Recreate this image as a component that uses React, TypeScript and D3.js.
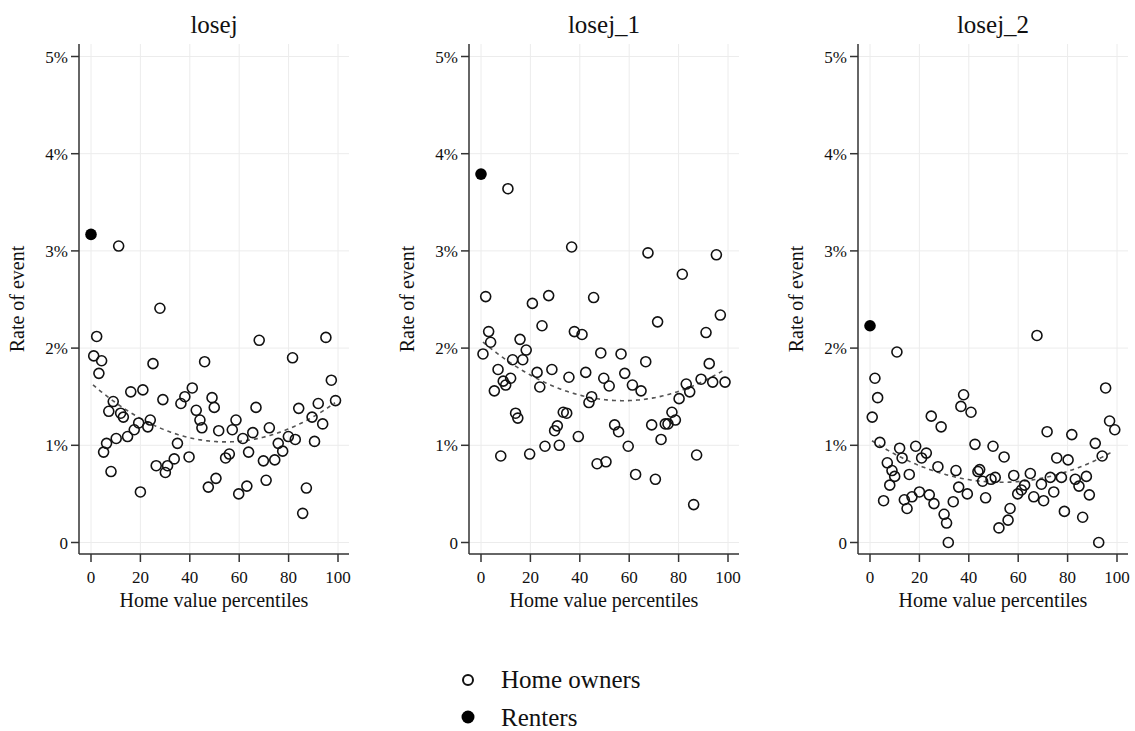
import React from "react";
import * as d3 from "d3";

const panelTitles = ["losej", "losej_1", "losej_2"];
const renterRates = [3.17, 3.79, 2.23];
const xTicks = [0, 20, 40, 60, 80, 100];
const yTicks = [0, 1, 2, 3, 4, 5];
const yTickLabels = ["0", "1%", "2%", "3%", "4%", "5%"];

const ownersLosej: [number, number][] = [
  [1.1, 1.92], [2.3, 2.12], [3.2, 1.74], [4.3, 1.87], [5.1, 0.93], [6.3, 1.02], [7.2, 1.35], [8.1, 0.73],
  [9, 1.45], [10.2, 1.07], [11.2, 3.05], [12, 1.33], [13.1, 1.29], [14.8, 1.09], [16.1, 1.55], [17.5, 1.16],
  [19.3, 1.23], [20, 0.52], [21, 1.57], [23, 1.19], [24, 1.26], [25.1, 1.84], [26.4, 0.79], [27.9, 2.41],
  [29.1, 1.47], [30.1, 0.72], [31, 0.79], [33.7, 0.86], [35, 1.02], [36.4, 1.43], [38, 1.5], [39.7, 0.88],
  [41, 1.59], [42.6, 1.36], [44.1, 1.26], [44.9, 1.18], [46, 1.86], [47.5, 0.57], [49, 1.49], [49.9, 1.39],
  [50.6, 0.66], [51.7, 1.15], [54.5, 0.87], [56, 0.91], [57.2, 1.16], [58.7, 1.26], [59.8, 0.5], [61.5, 1.07],
  [63.1, 0.58], [63.8, 0.93], [65.5, 1.13], [66.8, 1.39], [68.1, 2.08], [69.8, 0.84], [70.9, 0.64], [72.2, 1.18],
  [74.4, 0.85], [75.8, 1.02], [77.6, 0.94], [79.9, 1.09], [81.6, 1.9], [82.7, 1.06], [84.1, 1.38], [85.7, 0.3],
  [87.2, 0.56], [89.5, 1.29], [90.5, 1.04], [92, 1.43], [93.8, 1.22], [95.1, 2.11], [97.3, 1.67], [99, 1.46],
];

const ownersLosej1: [number, number][] = [
  [0.8, 1.94], [1.9, 2.53], [3.1, 2.17], [3.9, 2.06], [5.4, 1.56], [6.9, 1.78], [8, 0.89], [9, 1.66],
  [10, 1.62], [10.9, 3.64], [12, 1.69], [12.8, 1.88], [14, 1.33], [14.9, 1.28], [15.8, 2.09], [16.9, 1.88],
  [18.3, 1.98], [19.7, 0.91], [20.8, 2.46], [22.7, 1.75], [23.8, 1.6], [24.7, 2.23], [25.9, 0.99], [27.4, 2.54],
  [28.7, 1.78], [29.8, 1.15], [30.9, 1.2], [31.7, 1.0], [33.3, 1.34], [34.7, 1.33], [35.6, 1.7], [36.7, 3.04],
  [37.8, 2.17], [39.4, 1.09], [40.9, 2.14], [42.4, 1.75], [43.7, 1.44], [44.8, 1.5], [45.6, 2.52], [47, 0.81],
  [48.5, 1.95], [49.7, 1.69], [50.6, 0.83], [51.9, 1.61], [54.1, 1.21], [55.7, 1.14], [56.7, 1.94], [58.2, 1.74],
  [59.6, 0.99], [61.3, 1.62], [62.6, 0.7], [64.8, 1.56], [66.7, 1.86], [67.6, 2.98], [69.1, 1.21], [70.6, 0.65],
  [71.5, 2.27], [72.9, 1.06], [74.6, 1.22], [75.7, 1.22], [77.3, 1.34], [78.7, 1.26], [80.2, 1.48], [81.5, 2.76],
  [83.1, 1.63], [84.5, 1.55], [86.1, 0.39], [87.3, 0.9], [89.1, 1.68], [91.1, 2.16], [92.4, 1.84], [93.8, 1.65],
  [95.3, 2.96], [96.9, 2.34], [98.8, 1.65],
];

const ownersLosej2: [number, number][] = [
  [0.9, 1.29], [2, 1.69], [3.1, 1.49], [4, 1.03], [5.5, 0.43], [7, 0.82], [8, 0.59], [8.9, 0.74],
  [10, 0.68], [10.9, 1.96], [12, 0.97], [13, 0.87], [13.9, 0.44], [15, 0.35], [15.9, 0.7], [17, 0.47],
  [18.5, 0.99], [20, 0.52], [20.9, 0.87], [22.8, 0.92], [24, 0.49], [24.8, 1.3], [25.9, 0.4], [27.5, 0.78],
  [28.8, 1.19], [30, 0.29], [31, 0.2], [31.7, 0.0], [33.7, 0.42], [34.8, 0.74], [35.9, 0.57], [36.8, 1.4],
  [37.9, 1.52], [39.4, 0.5], [40.9, 1.34], [42.5, 1.01], [43.7, 0.73], [44.4, 0.75], [45.6, 0.63], [46.8, 0.46],
  [49, 0.65], [49.8, 0.99], [50.7, 0.67], [52.2, 0.15], [54.3, 0.88], [55.9, 0.23], [56.7, 0.35], [58.2, 0.69],
  [59.8, 0.5], [61.3, 0.54], [62.6, 0.59], [64.9, 0.71], [66.3, 0.47], [67.6, 2.13], [69.4, 0.6], [70.3, 0.43],
  [71.7, 1.14], [73, 0.67], [74.4, 0.52], [75.6, 0.87], [77.5, 0.67], [78.7, 0.32], [80.2, 0.85], [81.7, 1.11],
  [83.1, 0.65], [84.6, 0.58], [86.1, 0.26], [87.6, 0.68], [88.8, 0.49], [91.2, 1.02], [92.6, 0.0], [94, 0.89],
  [95.4, 1.59], [97, 1.25], [99.1, 1.16],
];

// quadratic-fit curve at three x positions
const fitAnchorX = [0, 55, 100];
const fitLosej = [1.64, 1.035, 1.46];
const fitLosej1 = [2.08, 1.46, 1.8];
const fitLosej2 = [1.06, 0.62, 0.96];

const owners = [ownersLosej, ownersLosej1, ownersLosej2];
const fits = [fitLosej, fitLosej1, fitLosej2];

const FONT = "'Liberation Serif', 'Times New Roman', serif";
const plotLefts = [79, 469, 858];
const plotWidth = 270;
const plotTop = 44;
const plotBottom = 554;

function lagrange(xs: number[], ys: number[], x: number) {
  let s = 0;
  for (let i = 0; i < xs.length; i++) {
    let t = ys[i];
    for (let j = 0; j < xs.length; j++) if (j !== i) t *= (x - xs[j]) / (xs[i] - xs[j]);
    s += t;
  }
  return s;
}

function Panel({ idx }: { idx: number }) {
  const left = plotLefts[idx];
  const x = d3.scaleLinear().domain([0, 100]).range([left + 12, left + 259]);
  const y = d3.scaleLinear().domain([0, 5]).range([542.5, 56.5]);
  const cx = left + plotWidth / 2;
  const fitXs = d3.range(0.8, 99.01, 0.5);
  const line = d3
    .line<number>()
    .x((d) => x(d))
    .y((d) => y(lagrange(fitAnchorX, fits[idx], d)));
  return (
    <g>
      <text x={cx} y={33} textAnchor="middle" fontSize={25} fontFamily={FONT} fill="#111">
        {panelTitles[idx]}
      </text>
      {yTicks.map((t) => (
        <line key={"gy" + t} x1={left} x2={left + plotWidth} y1={y(t)} y2={y(t)} stroke="#ececec" strokeWidth={1} />
      ))}
      {xTicks.map((t) => (
        <line key={"gx" + t} x1={x(t)} x2={x(t)} y1={plotTop} y2={plotBottom} stroke="#ececec" strokeWidth={1} />
      ))}
      <line x1={left} x2={left} y1={plotTop} y2={plotBottom} stroke="#333" strokeWidth={1.5} />
      <line x1={left} x2={left + plotWidth} y1={plotBottom} y2={plotBottom} stroke="#333" strokeWidth={1.5} />
      {yTicks.map((t, i) => (
        <g key={"ty" + t}>
          <line x1={left - 8} x2={left} y1={y(t)} y2={y(t)} stroke="#333" strokeWidth={1.5} />
          <text x={left - 11} y={y(t) + 6} textAnchor="end" fontSize={17} fontFamily={FONT} fill="#111">
            {yTickLabels[i]}
          </text>
        </g>
      ))}
      {xTicks.map((t) => (
        <g key={"tx" + t}>
          <line x1={x(t)} x2={x(t)} y1={plotBottom} y2={plotBottom + 8} stroke="#333" strokeWidth={1.5} />
          <text x={x(t)} y={583} textAnchor="middle" fontSize={17} fontFamily={FONT} fill="#111">
            {t}
          </text>
        </g>
      ))}
      <text x={cx} y={607} textAnchor="middle" fontSize={20} fontFamily={FONT} fill="#111">
        Home value percentiles
      </text>
      <text
        transform={`translate(${left - 55},${(plotTop + plotBottom) / 2}) rotate(-90)`}
        textAnchor="middle"
        fontSize={20}
        fontFamily={FONT}
        fill="#111"
      >
        Rate of event
      </text>
      <path d={line(fitXs) || ""} fill="none" stroke="#555" strokeWidth={1.6} strokeDasharray="4 4" />
      {owners[idx].map((p, i) => (
        <circle key={i} cx={x(p[0])} cy={y(p[1])} r={5} fill="none" stroke="#111" strokeWidth={1.6} />
      ))}
      <circle cx={x(0)} cy={y(renterRates[idx])} r={5.8} fill="#000" />
    </g>
  );
}

export default function App() {
  return (
    <svg
      width={1135}
      height={731}
      style={{ position: "absolute", left: 0, top: 0, background: "#fff" }}
      xmlns="http://www.w3.org/2000/svg"
    >
      <rect width={1135} height={731} fill="#fff" />
      {[0, 1, 2].map((i) => (
        <Panel key={i} idx={i} />
      ))}
      <circle cx={468} cy={680} r={5} fill="none" stroke="#111" strokeWidth={2} />
      <text x={501} y={688} fontSize={25} fontFamily={FONT} fill="#111">
        Home owners
      </text>
      <circle cx={468} cy={717} r={6.5} fill="#000" />
      <text x={501} y={726} fontSize={25} fontFamily={FONT} fill="#111">
        Renters
      </text>
    </svg>
  );
}
